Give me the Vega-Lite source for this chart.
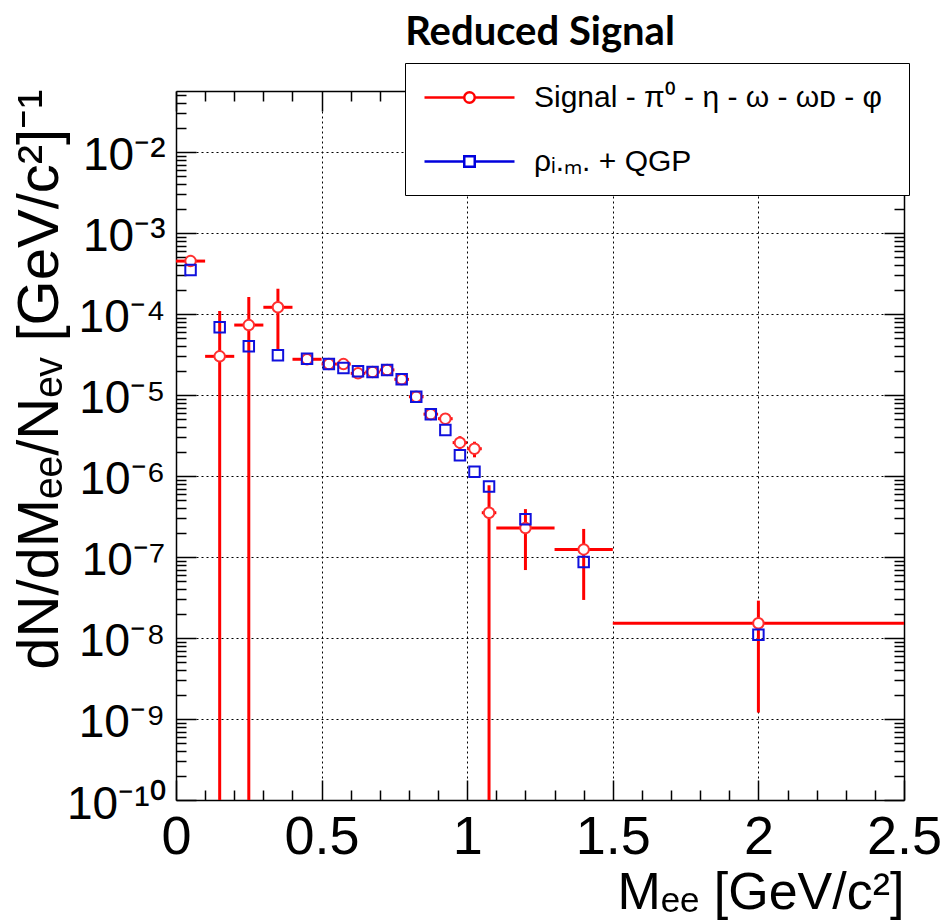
{
  "$schema": "https://vega.github.io/schema/vega-lite/v6.json",
  "width": 728,
  "height": 709,
  "autosize": {"type": "none"},
  "padding": {"left": 176, "top": 91, "right": 41, "bottom": 123},
  "background": "white",
  "title": {"text": "Reduced Signal", "font": "Lato", "fontWeight": "bold", "fontSize": 40, "anchor": "middle", "frame": "group", "offset": 10, "color": "black"},
  "config": {
    "view": {"stroke": null},
    "axis": {"domainColor": "black", "domainWidth": 1.5, "tickColor": "black", "tickWidth": 1.5, "labelColor": "black", "titleColor": "black", "labelFont": "Liberation Sans", "titleFont": "Liberation Sans", "titleFontWeight": "normal"}
  },
  "data": {"values": [
    {"series": "sig", "x": 0.05, "y": 4.5e-4, "xlo": 0, "xhi": 0.1, "ylo": 4.2e-4, "yhi": 4.8e-4},
    {"series": "sig", "x": 0.15, "y": 3.0e-5, "xlo": 0.1, "xhi": 0.2, "ylo": 1e-12, "yhi": 1.09e-4},
    {"series": "sig", "x": 0.25, "y": 7.3e-5, "xlo": 0.2, "xhi": 0.3, "ylo": 1e-12, "yhi": 1.62e-4},
    {"series": "sig", "x": 0.35, "y": 1.21e-4, "xlo": 0.3, "xhi": 0.4, "ylo": 3.6e-5, "yhi": 2.05e-4},
    {"series": "sig", "x": 0.45, "y": 2.76e-5, "xlo": 0.4, "xhi": 0.5, "ylo": 2.6e-5, "yhi": 2.92e-5},
    {"series": "sig", "x": 0.525, "y": 2.41e-5, "xlo": 0.5, "xhi": 0.55, "ylo": 2.27e-5, "yhi": 2.55e-5},
    {"series": "sig", "x": 0.575, "y": 2.41e-5, "xlo": 0.55, "xhi": 0.6, "ylo": 2.26e-5, "yhi": 2.56e-5},
    {"series": "sig", "x": 0.625, "y": 1.85e-5, "xlo": 0.6, "xhi": 0.65, "ylo": 1.72e-5, "yhi": 1.98e-5},
    {"series": "sig", "x": 0.675, "y": 1.92e-5, "xlo": 0.65, "xhi": 0.7, "ylo": 1.8e-5, "yhi": 2.04e-5},
    {"series": "sig", "x": 0.725, "y": 2.04e-5, "xlo": 0.7, "xhi": 0.75, "ylo": 1.92e-5, "yhi": 2.16e-5},
    {"series": "sig", "x": 0.775, "y": 1.56e-5, "xlo": 0.75, "xhi": 0.8, "ylo": 1.45e-5, "yhi": 1.67e-5},
    {"series": "sig", "x": 0.825, "y": 9.5e-6, "xlo": 0.8, "xhi": 0.85, "ylo": 8.8e-6, "yhi": 1.02e-5},
    {"series": "sig", "x": 0.875, "y": 5.8e-6, "xlo": 0.85, "xhi": 0.9, "ylo": 5.3e-6, "yhi": 6.3e-6},
    {"series": "sig", "x": 0.925, "y": 5.1e-6, "xlo": 0.9, "xhi": 0.95, "ylo": 4.3e-6, "yhi": 5.9e-6},
    {"series": "sig", "x": 0.975, "y": 2.58e-6, "xlo": 0.95, "xhi": 1.0, "ylo": 2.05e-6, "yhi": 3.1e-6},
    {"series": "sig", "x": 1.025, "y": 2.17e-6, "xlo": 1.0, "xhi": 1.05, "ylo": 1.7e-6, "yhi": 2.65e-6},
    {"series": "sig", "x": 1.075, "y": 3.52e-7, "xlo": 1.05, "xhi": 1.1, "ylo": 1e-12, "yhi": 7.7e-7},
    {"series": "sig", "x": 1.2, "y": 2.28e-7, "xlo": 1.1, "xhi": 1.3, "ylo": 6.9e-8, "yhi": 3.9e-7},
    {"series": "sig", "x": 1.4, "y": 1.24e-7, "xlo": 1.3, "xhi": 1.5, "ylo": 2.95e-8, "yhi": 2.22e-7},
    {"series": "sig", "x": 2.0, "y": 1.52e-8, "xlo": 1.5, "xhi": 2.5, "ylo": 1.2e-9, "yhi": 2.89e-8},
    {"series": "bkg", "x": 0.05, "y": 3.5e-4},
    {"series": "bkg", "x": 0.15, "y": 6.85e-5},
    {"series": "bkg", "x": 0.25, "y": 4.0e-5},
    {"series": "bkg", "x": 0.35, "y": 3.1e-5},
    {"series": "bkg", "x": 0.45, "y": 2.8e-5},
    {"series": "bkg", "x": 0.525, "y": 2.41e-5},
    {"series": "bkg", "x": 0.575, "y": 2.15e-5},
    {"series": "bkg", "x": 0.625, "y": 1.96e-5},
    {"series": "bkg", "x": 0.675, "y": 1.92e-5},
    {"series": "bkg", "x": 0.725, "y": 2.04e-5},
    {"series": "bkg", "x": 0.775, "y": 1.56e-5},
    {"series": "bkg", "x": 0.825, "y": 9.5e-6},
    {"series": "bkg", "x": 0.875, "y": 5.8e-6},
    {"series": "bkg", "x": 0.925, "y": 3.7e-6},
    {"series": "bkg", "x": 0.975, "y": 1.8e-6},
    {"series": "bkg", "x": 1.025, "y": 1.13e-6},
    {"series": "bkg", "x": 1.075, "y": 7.4e-7},
    {"series": "bkg", "x": 1.2, "y": 2.92e-7},
    {"series": "bkg", "x": 1.4, "y": 8.7e-8},
    {"series": "bkg", "x": 2.0, "y": 1.1e-8}
  ]},
  "layer": [
    {
      "transform": [{"filter": "datum.series == 'sig'"}],
      "mark": {"type": "rule", "color": "#ff0000", "strokeWidth": 3, "clip": true},
      "encoding": {
        "x": {"field": "xlo", "type": "quantitative", "scale": {"domain": [0, 2.5], "nice": false, "zero": false},
          "axis": {"orient": "bottom",
            "values": [0, 0.1, 0.2, 0.3, 0.4, 0.5, 0.6, 0.7, 0.8, 0.9, 1, 1.1, 1.2, 1.3, 1.4, 1.5, 1.6, 1.7, 1.8, 1.9, 2, 2.1, 2.2, 2.3, 2.4, 2.5],
            "labelExpr": "abs(datum.value*2 - round(datum.value*2)) < 0.001 ? format(datum.value, '~g') : ''",
            "tickSize": {"condition": {"test": "abs(datum.value*2 - round(datum.value*2)) < 0.001", "value": -20}, "value": -10},
            "grid": true, "gridColor": "black", "gridDash": [2, 3], "gridWidth": 1,
            "gridOpacity": {"condition": {"test": "abs(datum.value*2 - round(datum.value*2)) < 0.001 && datum.value > 0.01 && datum.value < 2.49", "value": 1}, "value": 0},
            "labelFontSize": 54, "labelPadding": 30, "labelFlush": false, "labelOverlap": false,
            "title": "Mₑₑ [GeV/c²]", "titleFontSize": 52, "titleX": 728, "titleY": 108, "titleAlign": "right", "titleBaseline": "alphabetic", "titleAnchor": null}},
        "x2": {"field": "xhi"},
        "y": {"field": "y", "type": "quantitative", "scale": {"type": "log", "domain": [1e-10, 0.0566], "nice": false},
          "axis": {"orient": "left",
            "values": [1e-10, 2e-10, 3e-10, 4e-10, 5e-10, 6e-10, 7e-10, 8e-10, 9e-10, 1e-9, 2e-9, 3e-9, 4e-9, 5e-9, 6e-9, 7e-9, 8e-9, 9e-9, 1e-8, 2e-8, 3e-8, 4e-8, 5e-8, 6e-8, 7e-8, 8e-8, 9e-8, 1e-7, 2e-7, 3e-7, 4e-7, 5e-7, 6e-7, 7e-7, 8e-7, 9e-7, 1e-6, 2e-6, 3e-6, 4e-6, 5e-6, 6e-6, 7e-6, 8e-6, 9e-6, 1e-5, 2e-5, 3e-5, 4e-5, 5e-5, 6e-5, 7e-5, 8e-5, 9e-5, 1e-4, 2e-4, 3e-4, 4e-4, 5e-4, 6e-4, 7e-4, 8e-4, 9e-4, 1e-3, 2e-3, 3e-3, 4e-3, 5e-3, 6e-3, 7e-3, 8e-3, 9e-3, 1e-2, 2e-2, 3e-2, 4e-2, 5e-2],
            "labelExpr": "abs(log(datum.value)/LN10 - round(log(datum.value)/LN10)) < 0.001 ? '10' + (round(log(datum.value)/LN10) == -10 ? '⁻¹⁰' : '⁻' + ['⁰','¹','²','³','⁴','⁵','⁶','⁷','⁸','⁹'][-round(log(datum.value)/LN10)]) : ''",
            "tickSize": {"condition": {"test": "abs(log(datum.value)/LN10 - round(log(datum.value)/LN10)) < 0.001", "value": -20}, "value": -10},
            "grid": true, "gridColor": "black", "gridDash": [2, 3], "gridWidth": 1,
            "gridOpacity": {"condition": {"test": "abs(log(datum.value)/LN10 - round(log(datum.value)/LN10)) < 0.001 && datum.value > 2e-10", "value": 1}, "value": 0},
            "labelFontSize": 46, "labelPadding": 31, "labelFlush": false, "labelOverlap": false, "labelBaseline": "middle", "labelOffset": 4,
            "title": "dN/dMₑₑ/Nₑᵥ [GeV/c²]⁻¹", "titleFontSize": 58, "titleX": -119, "titleY": -2, "titleAlign": "right", "titleAngle": -90, "titleBaseline": "alphabetic", "titleAnchor": null}}
      }
    },
    {
      "transform": [{"filter": "datum.series == 'sig'"}],
      "mark": {"type": "rule", "color": "#ff0000", "strokeWidth": 3, "clip": true},
      "encoding": {
        "x": {"field": "x", "type": "quantitative", "scale": {"domain": [0, 2.5], "nice": false, "zero": false}, "axis": null},
        "y": {"field": "ylo", "type": "quantitative", "scale": {"type": "log", "domain": [1e-10, 0.0566], "nice": false}, "axis": null},
        "y2": {"field": "yhi"}
      }
    },
    {
      "transform": [{"filter": "datum.series == 'sig'"}],
      "mark": {"type": "point", "shape": "circle", "size": 110, "filled": false, "fill": "white", "stroke": "#ff3030", "strokeWidth": 2, "opacity": 1},
      "encoding": {
        "x": {"field": "x", "type": "quantitative", "scale": {"domain": [0, 2.5], "nice": false, "zero": false}, "axis": null},
        "y": {"field": "y", "type": "quantitative", "scale": {"type": "log", "domain": [1e-10, 0.0566], "nice": false}, "axis": null}
      }
    },
    {
      "transform": [{"filter": "datum.series == 'bkg'"}],
      "mark": {"type": "point", "shape": "square", "size": 110, "filled": false, "stroke": "#1010dd", "strokeWidth": 2, "opacity": 1},
      "encoding": {
        "x": {"field": "x", "type": "quantitative", "scale": {"domain": [0, 2.5], "nice": false, "zero": false}, "axis": null},
        "y": {"field": "y", "type": "quantitative", "scale": {"type": "log", "domain": [1e-10, 0.0566], "nice": false}, "axis": null}
      }
    },
    {
      "mark": {"type": "point", "filled": false, "opacity": 0},
      "encoding": {
        "x": {"field": "x", "type": "quantitative", "scale": {"domain": [0, 2.5], "nice": false, "zero": false}, "axis": null},
        "y": {"field": "y", "type": "quantitative", "scale": {"type": "log", "domain": [1e-10, 0.0566], "nice": false}, "axis": null},
        "color": {"field": "series", "type": "nominal", "scale": {"domain": ["sig", "bkg"], "range": ["#ff0000", "#0000dd"]},
          "legend": {"orient": "none", "legendX": 229, "legendY": -28, "title": null, "fillColor": "white", "strokeColor": "black", "padding": 18, "symbolSize": 900, "symbolStrokeWidth": 2.5, "symbolOpacity": 1, "symbolFillColor": "white", "labelFont": "Liberation Sans", "labelFontSize": 30, "labelColor": "black", "labelOffset": 78, "rowPadding": 32, "labelLimit": 700,
            "labelExpr": "datum.value == 'sig' ? 'Signal -  π⁰ - η - ω - ωᴅ - φ' : 'ρᵢ.ₘ. + QGP'"}},
        "shape": {"field": "series", "type": "nominal", "scale": {"domain": ["sig", "bkg"], "range": ["M-1,0H1.65M2.35,0H5M2.35,0A0.35,0.35 0 1,1 1.65,0A0.35,0.35 0 1,1 2.35,0Z", "M-1,0H1.65M2.35,0H5M1.65,-0.35H2.35V0.35H1.65Z"]},
          "legend": {"orient": "none", "legendX": 229, "legendY": -28, "title": null, "fillColor": "white", "strokeColor": "black", "padding": 18, "symbolSize": 900, "symbolStrokeWidth": 2.5, "symbolOpacity": 1, "symbolFillColor": "white", "labelFont": "Liberation Sans", "labelFontSize": 30, "labelColor": "black", "labelOffset": 78, "rowPadding": 32, "labelLimit": 700,
            "labelExpr": "datum.value == 'sig' ? 'Signal -  π⁰ - η - ω - ωᴅ - φ' : 'ρᵢ.ₘ. + QGP'"}}
      }
    },
    {
      "mark": {"type": "point", "opacity": 0},
      "encoding": {
        "x": {"field": "x", "type": "quantitative", "scale": {"domain": [0, 2.5], "nice": false, "zero": false},
          "axis": {"orient": "top", "labels": false, "title": null, "grid": false,
            "values": [0, 0.1, 0.2, 0.3, 0.4, 0.5, 0.6, 0.7, 0.8, 0.9, 1, 1.1, 1.2, 1.3, 1.4, 1.5, 1.6, 1.7, 1.8, 1.9, 2, 2.1, 2.2, 2.3, 2.4, 2.5],
            "tickSize": {"condition": {"test": "abs(datum.value*2 - round(datum.value*2)) < 0.001", "value": -20}, "value": -10}}},
        "y": {"field": "y", "type": "quantitative", "scale": {"type": "log", "domain": [1e-10, 0.0566], "nice": false},
          "axis": {"orient": "right", "labels": false, "title": null, "grid": false,
            "values": [1e-10, 2e-10, 3e-10, 4e-10, 5e-10, 6e-10, 7e-10, 8e-10, 9e-10, 1e-9, 2e-9, 3e-9, 4e-9, 5e-9, 6e-9, 7e-9, 8e-9, 9e-9, 1e-8, 2e-8, 3e-8, 4e-8, 5e-8, 6e-8, 7e-8, 8e-8, 9e-8, 1e-7, 2e-7, 3e-7, 4e-7, 5e-7, 6e-7, 7e-7, 8e-7, 9e-7, 1e-6, 2e-6, 3e-6, 4e-6, 5e-6, 6e-6, 7e-6, 8e-6, 9e-6, 1e-5, 2e-5, 3e-5, 4e-5, 5e-5, 6e-5, 7e-5, 8e-5, 9e-5, 1e-4, 2e-4, 3e-4, 4e-4, 5e-4, 6e-4, 7e-4, 8e-4, 9e-4, 1e-3, 2e-3, 3e-3, 4e-3, 5e-3, 6e-3, 7e-3, 8e-3, 9e-3, 1e-2, 2e-2, 3e-2, 4e-2, 5e-2],
            "tickSize": {"condition": {"test": "abs(log(datum.value)/LN10 - round(log(datum.value)/LN10)) < 0.001", "value": -20}, "value": -10}}}
      }
    }
  ],
  "resolve": {"axis": {"x": "independent", "y": "independent"}}
}
